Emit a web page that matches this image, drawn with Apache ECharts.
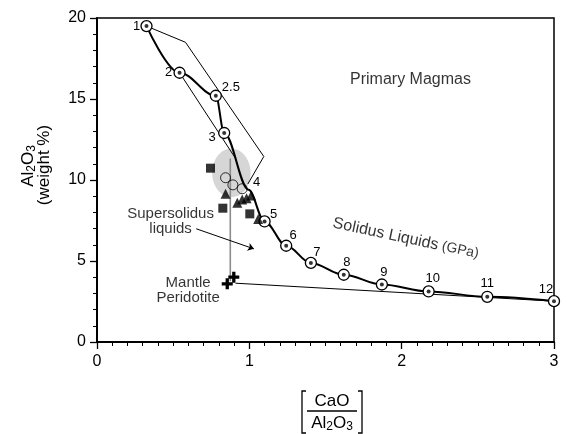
<!DOCTYPE html>
<html>
<head>
<meta charset="utf-8">
<script src="https://cdn.jsdelivr.net/npm/echarts@6/dist/echarts.min.js"></script>
<style>html,body{margin:0;padding:0;background:#fff}#c{width:567px;height:434px}</style>
</head>
<body>
<div id="c"></div>
<script>
// ---------- data ----------
const curveLabels = ['1','2','2.5','3','4','5','6','7','8','9','10','11','12'];
const curveX = [0.325, 0.542, 0.78, 0.835, 0.995, 1.10, 1.242, 1.404, 1.62, 1.87, 2.177, 2.562, 3.0];
const curveY = [19.5, 16.62, 15.2, 12.9, 9.4, 7.44, 5.94, 4.88, 4.15, 3.55, 3.12, 2.79, 2.52];
const markedPoints = [true, true, true, true, false, true, true, true, true, true, true, true, true];

const hollowX = [0.844, 0.892, 0.953];
const hollowY = [10.14, 9.70, 9.46];

const squareX = [0.745, 0.826, 1.003];
const squareY = [10.73, 8.26, 7.91];

const triangleX = [0.844, 0.921, 0.953, 0.982, 1.012, 1.058];
const triangleY = [9.15, 8.59, 8.80, 8.88, 9.04, 7.60];

const crossX = [0.898, 0.855];
const crossY = [4.00, 3.59];

const envelopeA = [[0.325, 19.5], [0.581, 18.5], [1.095, 11.45], [0.99, 9.75]];
const envelopeB = [[0.542, 16.62], [0.911, 11.31]];
const mantleTie = [[0.909, 3.63], [3.0, 2.52]];
const verticalLine = [[0.875, 11.33], [0.875, 3.75]];
const arrowLine = [[0.651, 6.99], [1.03, 5.75]];
const ellipse = {x: 0.882, y: 10.44, rx: 0.126, ry: 1.5};

const xTicks = [0, 1, 2, 3];
const yTicks = [0, 5, 10, 15, 20];

// ---------- chart ----------
const FONT = "'Liberation Sans', Arial, Helvetica, sans-serif";
const chart = echarts.init(document.getElementById('c'), null, {renderer: 'canvas'});

const labelOffsets = [[-10,0],[-11,0],[15,-8],[-12,4],[8,-7],[9,-7],[7,-10],[6,-11],[3,-12],[2,-12],[4,-13],[0,-13],[-8,-12]];

const curveData = curveX.map((x, i) => [x, curveY[i]]);
const markerData = [];
curveX.forEach((x, i) => {
  markerData.push({
    value: [x, curveY[i]],
    symbolSize: markedPoints[i] ? 11 : 0,
    label: {show: true, formatter: curveLabels[i], position: 'inside', offset: labelOffsets[i]}
  });
});
const dotData = curveX.map((x, i) => markedPoints[i] ? [x, curveY[i]] : null).filter(d => d);

const plusPath = 'path://M3.5,0h3v3.5h3.5v3h-3.5v3.5h-3v-3.5h-3.5v-3h3.5z';

const texts = [
  {value: [2.058, 16.2], text: 'Primary Magmas', rotate: 0, fs: 16},
  {value: [2.027, 6.39], text: '{a|Solidus Liquids}{b| (GPa)}', rotate: -12, fs: 16},
  {value: [0.483, 7.44], text: 'Supersolidus\nliquids', rotate: 0, fs: 15},
  {value: [0.598, 3.18], text: 'Mantle\nPeridotite', rotate: 0, fs: 15}
];

const option = {
  animation: false,
  backgroundColor: '#fff',
  textStyle: {fontFamily: FONT, color: '#000'},
  grid: {left: 97, right: 13, top: 18, bottom: 92, show: true, borderColor: '#000', borderWidth: 1.5, backgroundColor: 'transparent'},
  xAxis: {
    type: 'value', min: xTicks[0], max: xTicks[xTicks.length - 1], interval: 1,
    axisLine: {lineStyle: {color: '#000', width: 2}},
    axisTick: {show: true, inside: false, length: 7, lineStyle: {color: '#000', width: 1.3}},
    minorTick: {show: true, splitNumber: 10, length: 4, lineStyle: {color: '#000', width: 1}},
    splitLine: {show: false},
    axisLabel: {fontSize: 16, color: '#000', fontFamily: FONT, margin: 12}
  },
  yAxis: {
    type: 'value', min: yTicks[0], max: yTicks[yTicks.length - 1], interval: 5,
    axisLine: {lineStyle: {color: '#000', width: 2}},
    axisTick: {show: true, inside: false, length: 7, lineStyle: {color: '#000', width: 1.3}},
    minorTick: {show: true, splitNumber: 5, length: 4, lineStyle: {color: '#000', width: 1}},
    splitLine: {show: false},
    axisLabel: {fontSize: 16, color: '#000', fontFamily: FONT, margin: 11}
  },
  series: [
    {
      type: 'custom', z: 1, silent: true,
      data: [[ellipse.x, ellipse.y, ellipse.rx, ellipse.ry]],
      renderItem: function (params, api) {
        const cx = api.value(0), cy = api.value(1), rx = api.value(2), ry = api.value(3);
        const pts = [];
        for (let k = 0; k < 72; k++) {
          const t = k / 72 * Math.PI * 2;
          pts.push(api.coord([cx + rx * Math.cos(t), cy + ry * Math.sin(t)]));
        }
        return {type: 'polygon', shape: {points: pts}, style: {fill: '#d6d6d6', stroke: null}};
      }
    },
    {type: 'line', z: 2, data: verticalLine, symbol: 'none', lineStyle: {color: '#8c8c8c', width: 1.6}},
    {type: 'line', z: 3, data: envelopeA, symbol: 'none', lineStyle: {color: '#000', width: 1}},
    {type: 'line', z: 3, data: envelopeB, symbol: 'none', lineStyle: {color: '#000', width: 1}},
    {type: 'line', z: 3, data: mantleTie, symbol: 'none', lineStyle: {color: '#000', width: 1}},
    {type: 'line', z: 4, data: curveData, symbol: 'none', smooth: 0.35, smoothMonotone: 'x', lineStyle: {color: '#000', width: 2}},
    {
      type: 'scatter', z: 5, data: markerData, symbol: 'circle',
      itemStyle: {color: '#fff', borderColor: '#000', borderWidth: 1.3, opacity: 1},
      label: {color: '#000', fontSize: 13, fontFamily: FONT}
    },
    {type: 'scatter', z: 6, data: dotData, symbol: 'circle', symbolSize: 4, itemStyle: {color: '#000'}},
    {
      type: 'scatter', z: 5, data: hollowX.map((x, i) => [x, hollowY[i]]), symbol: 'circle', symbolSize: 10,
      itemStyle: {color: 'rgba(0,0,0,0)', borderColor: '#000', borderWidth: 1}
    },
    {type: 'scatter', z: 6, data: squareX.map((x, i) => [x, squareY[i]]), symbol: 'rect', symbolSize: 9, itemStyle: {color: '#000'}},
    {type: 'scatter', z: 6, data: triangleX.map((x, i) => [x, triangleY[i]]), symbol: 'triangle', symbolSize: 10, itemStyle: {color: '#000'}},
    {type: 'scatter', z: 6, data: crossX.map((x, i) => [x, crossY[i]]), symbol: plusPath, symbolSize: 11, itemStyle: {color: '#000', opacity: 1}},
    {
      type: 'lines', coordinateSystem: 'cartesian2d', z: 6,
      data: [{coords: arrowLine}],
      symbol: ['none', 'arrow'], symbolSize: 6,
      lineStyle: {color: '#000', width: 1, opacity: 1}
    },
    {
      type: 'scatter', z: 7, symbolSize: 0,
      data: texts.map(t => ({
        value: t.value,
        label: {show: true, position: 'inside', formatter: t.text, rotate: t.rotate, fontSize: t.fs, lineHeight: 15,
          color: '#000', fontFamily: FONT, align: 'center',
          rich: {a: {fontSize: 16, fontFamily: FONT, color: '#000'}, b: {fontSize: 14, fontFamily: FONT, color: '#000'}}}
      }))
    }
  ],
  graphic: [
    {
      type: 'text', x: 28, y: 166, rotation: Math.PI / 2,
      style: {text: '{n|Al}{s|2}{n|O}{s|3}', align: 'center', verticalAlign: 'middle', fill: '#000',
        rich: {n: {fontSize: 17, fontFamily: FONT, fill: '#000'}, s: {fontSize: 12, fontFamily: FONT, fill: '#000', padding: [8, 0, 0, 0]}}}
    },
    {
      type: 'text', x: 44, y: 165, rotation: Math.PI / 2,
      style: {text: '(weight %)', align: 'center', verticalAlign: 'middle', fill: '#000', fontSize: 17, fontFamily: FONT}
    },
    {
      type: 'text', x: 332, y: 401,
      style: {text: 'CaO', align: 'center', verticalAlign: 'middle', fill: '#000', fontSize: 17, fontFamily: FONT}
    },
    {type: 'line', shape: {x1: 307, y1: 411, x2: 357, y2: 411}, style: {stroke: '#000', lineWidth: 1.3}},
    {
      type: 'text', x: 332, y: 423,
      style: {text: '{n|Al}{s|2}{n|O}{s|3}', align: 'center', verticalAlign: 'middle', fill: '#000',
        rich: {n: {fontSize: 17, fontFamily: FONT, fill: '#000'}, s: {fontSize: 12, fontFamily: FONT, fill: '#000', padding: [8, 0, 0, 0]}}}
    },
    {type: 'polyline', shape: {points: [[306, 391], [302, 391], [302, 433], [306, 433]]}, style: {stroke: '#000', lineWidth: 1.3, fill: null}},
    {type: 'polyline', shape: {points: [[358, 391], [362, 391], [362, 433], [358, 433]]}, style: {stroke: '#000', lineWidth: 1.3, fill: null}}
  ]
};
chart.setOption(option);
</script>
</body>
</html>
